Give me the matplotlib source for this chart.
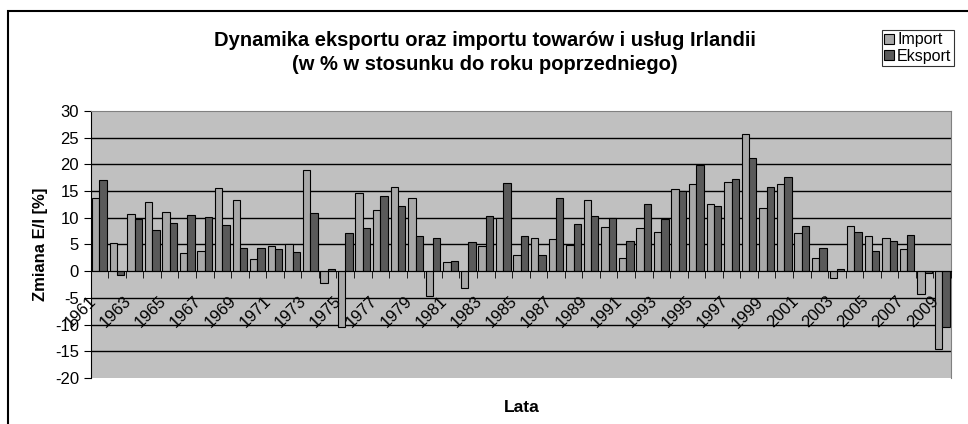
import numpy as np
import matplotlib
matplotlib.use('Agg')
import matplotlib.pyplot as plt
from matplotlib.patches import Rectangle
from matplotlib.transforms import ScaledTranslation

plt.rcParams['font.family'] = ['Liberation Sans', 'DejaVu Sans']
plt.rcParams['axes.unicode_minus'] = False

# wartosci (1961-2009)
lata = list(range(1961, 2010))
imp = [13.8, 5.3, 10.75, 12.9, 11.0, 3.4, 3.7, 15.6, 13.4, 2.2, 4.7, 5.0,
       18.9, -2.3, -10.4, 14.6, 11.4, 15.7, 13.8, -4.6, 1.75, -3.1, 4.75,
       9.9, 3.1, 6.25, 6.1, 4.9, 13.4, 8.2, 2.4, 8.1, 7.4, 15.4, 16.4, 12.5,
       16.75, 25.75, 11.8, 16.4, 7.2, 2.4, -1.25, 8.5, 6.5, 6.3, 4.1, -4.3,
       -14.6]
eks = [17.1, -0.7, 9.75, 7.8, 9.1, 10.6, 10.1, 8.6, 4.4, 4.4, 4.1, 3.6,
       10.9, 0.5, 7.2, 8.1, 14.0, 12.25, 6.5, 6.25, 2.0, 5.4, 10.4, 16.5,
       6.5, 3.1, 13.75, 8.9, 10.25, 9.9, 5.7, 12.6, 9.75, 15.1, 19.8, 12.2,
       17.3, 21.25, 15.7, 17.7, 8.5, 4.4, 0.5, 7.25, 3.8, 5.6, 6.75, -0.4,
       -10.4]
label_lata = [str(r) for r in lata[::2]]
y_ticks = list(range(-20, 31, 5))

c_imp = '#a8a8a8'
c_eks = '#5a5a5a'

fig = plt.figure(figsize=(9.68, 4.24), dpi=100)

# ramka wokol wykresu (prawa i dolna krawedz poza obrazem)
fig.patches.append(Rectangle((8.3 / 968, -0.1), 1.2, 1 - 10.7 / 424 + 0.1,
                             transform=fig.transFigure, fill=False,
                             edgecolor='black', linewidth=1.5))

ax = fig.add_axes([90.7 / 968, 1 - 378 / 424, (951 - 90.7) / 968, (378 - 111) / 424])
ax.set_facecolor('#c0c0c0')

# linie siatki pod slupkami
for yv in y_ticks[1:-1]:
    if yv != 0:
        ax.axhline(yv, color='black', linewidth=1, zorder=1)

x = np.arange(len(lata))
w = 0.42
ax.bar(x - w / 2, imp, w, color=c_imp, edgecolor='black', linewidth=0.8, label='Import', zorder=2)
ax.bar(x + w / 2, eks, w, color=c_eks, edgecolor='black', linewidth=0.8, label='Eksport', zorder=2)

ax.set_xlim(-0.5, len(lata) - 0.5)
ax.set_ylim(-20, 30)
ax.set_yticks(y_ticks)

for s in ['top', 'right']:
    ax.spines[s].set_color('#808080')
ax.spines['left'].set_color('black')
ax.spines['bottom'].set_position(('data', 0))
ax.spines['bottom'].set_zorder(4)
ax.xaxis.set_zorder(5)

# etykiety lat co dwa lata, znaczniki na granicach kategorii
ax.set_xticks(x[::2])
ax.set_xticklabels(label_lata, rotation=45, ha='right', va='center',
                   rotation_mode='anchor', fontsize=12)
ax.tick_params(axis='x', which='major', length=0, pad=20)
przes = ScaledTranslation(-6 / 100, 0, fig.dpi_scale_trans)
for t in ax.get_xticklabels():
    t.set_transform(t.get_transform() + przes)
ax.set_xticks(np.arange(-0.5, len(lata), 1.0), minor=True)
ax.tick_params(axis='x', which='minor', length=5, direction='out')
ax.tick_params(axis='y', length=5, labelsize=12)

fig.text(40 / 968, 1 - 244 / 424, 'Zmiana E/I [%]', rotation=90, ha='center', va='center',
         fontsize=12, fontweight='bold')
fig.text(522 / 968, 1 - 408 / 424, 'Lata', ha='center', va='center',
         fontsize=12.5, fontweight='bold')

fig.text(485 / 968, 1 - 40 / 424, 'Dynamika eksportu oraz importu towarów i usług Irlandii',
         ha='center', va='center', fontsize=14.5, fontweight='bold')
fig.text(485 / 968, 1 - 64 / 424, '(w % w stosunku do roku poprzedniego)',
         ha='center', va='center', fontsize=14.5, fontweight='bold')

leg = fig.legend(loc='upper right', bbox_to_anchor=(954 / 968, 1 - 30 / 424),
                 fontsize=11.5, frameon=True, fancybox=False, borderpad=0.15,
                 handlelength=0.6, handleheight=0.6, handletextpad=0.2,
                 labelspacing=0.1, borderaxespad=0)
leg.get_frame().set_edgecolor('black')
leg.get_frame().set_linewidth(0.8)

fig.savefig('out.png', dpi=100)
